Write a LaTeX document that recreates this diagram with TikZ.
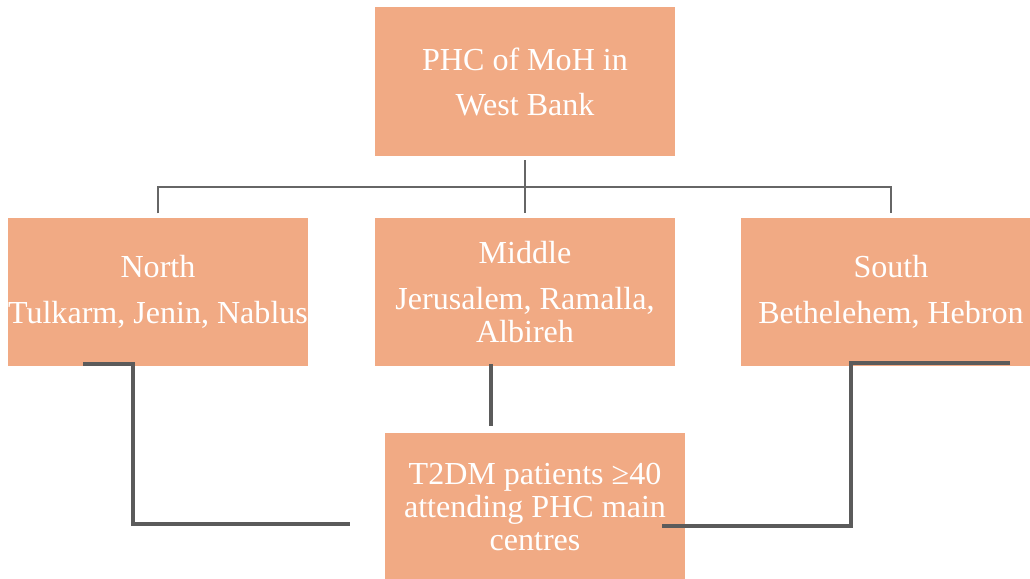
\documentclass[tikz,border=0pt]{standalone}
\usepackage{fontspec}
\setmainfont{Liberation Serif}
\usetikzlibrary{calc}

\definecolor{boxfill}{HTML}{F1AA84}
\definecolor{linkgray}{HTML}{666666}
\definecolor{bargray}{HTML}{5B5B5B}

\tikzset{
  unit/.style={fill=boxfill, draw=none, text=white, align=center, inner sep=0pt,
               minimum width=7.5cm, minimum height=3.7cm,
               font=\fontsize{22.8}{23.5}\selectfont},
  link/.style={draw=linkgray, line width=1.4pt},
  bar/.style={draw=bargray, line width=2.8pt}
}

\begin{document}
\begin{tikzpicture}[x=0.025cm, y=-0.025cm]

\useasboundingbox (0,0) rectangle (1030,578);
\clip (0,0) rectangle (1030,578);

% boxes
\node [unit] (top)      at (525,81.5) {PHC of MoH in\\[0.3cm]West Bank};
\node [unit] (north)    at (158,292)  {North\\[0.325cm]Tulkarm, Jenin, Nablus};
\node [unit] (middle)   at (525,292)  {Middle\\[0.325cm]Jerusalem, Ramalla,\\Albireh};
\node [unit] (south)    at (891,292)  {South\\[0.325cm]Bethelehem, Hebron};
\node [unit] (patients) at (535,507)  {T2DM patients ≥40\\attending PHC main\\centres};

% tree lines
\draw [link, shorten <=3, shorten >=3] (top.south) -- (middle.north);
\draw [link, shorten <=3, shorten >=3] (north.north) |- ($(top.south)!0.5!(middle.north)$) -| (south.north);

% lines to the patients box
\coordinate (nb) at (83,364);
\coordinate (pl) at (350,524);
\coordinate (mb) at (491,364);
\coordinate (sb) at (1010,363);
\coordinate (pr) at (662,526);
\draw [bar] (nb) -- ++(50,0) |- (pl);
\draw [bar, shorten >=5] (mb) -- (mb |- patients.north);
\draw [bar] (sb) -- ++(-159,0) |- (pr);

\end{tikzpicture}
\end{document}
